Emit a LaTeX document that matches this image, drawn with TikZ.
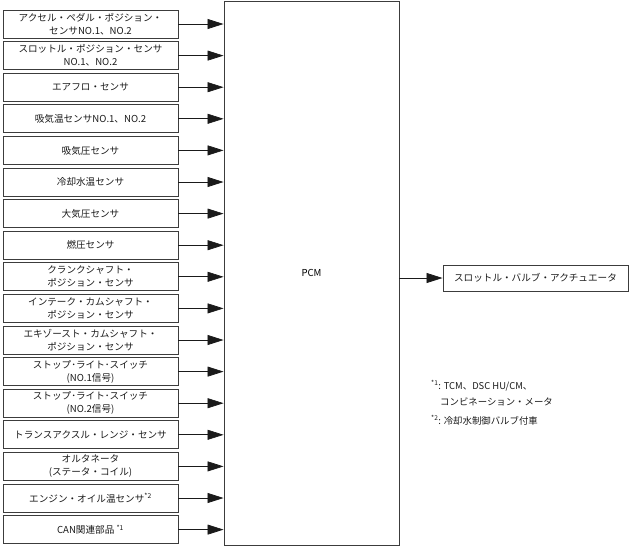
\documentclass[tikz,border=0pt]{standalone}
\usepackage{fontspec}
\setmainfont{Noto Sans CJK JP}
\usepackage{tikz}
\usetikzlibrary{arrows.meta}
\definecolor{pcmInk}{HTML}{1A1A1A}
\definecolor{pcmEdge}{HTML}{3C3C3C}

\begin{document}
\begin{tikzpicture}[
    x=1pt, y=-1pt,
    >={Triangle[length=16pt, width=10pt]},
    sensor/.style={draw=pcmEdge, line width=0.9pt, minimum width=175pt, minimum height=28pt,
                   inner sep=0pt, align=center, text=pcmInk, font=\fontsize{9.6}{13}\selectfont},
    pcm/.style={draw=pcmEdge, line width=0.9pt, minimum width=175pt, minimum height=544pt,
                inner sep=0pt, font=\fontsize{9.6}{12}\selectfont},
    actuator/.style={sensor, minimum width=185pt, minimum height=26pt},
    note/.style={anchor=north west, align=left, inner sep=0pt, text=pcmInk,
                 font=\fontsize{9.4}{16}\selectfont},
    sig/.style={->, line width=0.7pt, pcmInk},
]
\useasboundingbox (0,0) rectangle (629,547);

% ---- Input sensors ----
\node[sensor] (accel) at (90.5, 24.0)  {アクセル・ペダル・ポジション・\\センサNO.1、NO.2};
\node[sensor] (tps)   at (90.5, 55.6)  {スロットル・ポジション・センサ\\NO.1、NO.2};
\node[sensor] (maf)   at (90.5, 87.2)  {エアフロ・センサ};
\node[sensor] (iat)   at (90.5, 118.8) {吸気温センサNO.1、NO.2};
\node[sensor] (map)   at (90.5, 150.4) {吸気圧センサ};
\node[sensor] (ect)   at (90.5, 182.0) {冷却水温センサ};
\node[sensor] (baro)  at (90.5, 213.6) {大気圧センサ};
\node[sensor] (fuelp) at (90.5, 245.2) {燃圧センサ};
\node[sensor] (ckp)   at (90.5, 276.8) {クランクシャフト・\\ポジション・センサ};
\node[sensor] (cmpin) at (90.5, 308.4) {インテーク・カムシャフト・\\ポジション・センサ};
\node[sensor] (cmpex) at (90.5, 340.0) {エキゾースト・カムシャフト・\\ポジション・センサ};
\node[sensor] (bswA)  at (90.5, 371.6) {ストップ･ライト･スイッチ\\(NO.1信号)};
\node[sensor] (bswB)  at (90.5, 403.2) {ストップ･ライト･スイッチ\\(NO.2信号)};
\node[sensor] (trs)   at (90.5, 434.8) {トランスアクスル・レンジ・センサ};
\node[sensor] (alt)   at (90.5, 466.4) {オルタネータ\\(ステータ・コイル)};
\node[sensor] (eot)   at (90.5, 498.0) {エンジン・オイル温センサ\textsuperscript{*2}};
\node[sensor] (can)   at (90.5, 529.6) {CAN関連部品 \textsuperscript{*1}};

% ---- PCM ----
\node[pcm] (pcm) at (311.5, 273) {PCM};

% Inputs into PCM
\draw[sig] (accel) -- (accel -| pcm.west);
\draw[sig] (tps)   -- (tps -| pcm.west);
\draw[sig] (maf)   -- (maf -| pcm.west);
\draw[sig] (iat)   -- (iat -| pcm.west);
\draw[sig] (map)   -- (map -| pcm.west);
\draw[sig] (ect)   -- (ect -| pcm.west);
\draw[sig] (baro)  -- (baro -| pcm.west);
\draw[sig] (fuelp) -- (fuelp -| pcm.west);
\draw[sig] (ckp)   -- (ckp -| pcm.west);
\draw[sig] (cmpin) -- (cmpin -| pcm.west);
\draw[sig] (cmpex) -- (cmpex -| pcm.west);
\draw[sig] (bswA)  -- (bswA -| pcm.west);
\draw[sig] (bswB)  -- (bswB -| pcm.west);
\draw[sig] (trs)   -- (trs -| pcm.west);
\draw[sig] (alt)   -- (alt -| pcm.west);
\draw[sig] (eot)   -- (eot -| pcm.west);
\draw[sig] (can)   -- (can -| pcm.west);

% ---- Output ----
\node[actuator] (tva) at (535.5, 278) {スロットル・バルブ・アクチュエータ};
\draw[sig] (tva -| pcm.east) -- (tva);

% ---- Notes ----
\node[note] (noteA) at (431, 380) {\textsuperscript{*1}: TCM、DSC HU/CM、\\\hspace{9pt}コンビネーション・メータ};
\node[note] (noteB) at (431, 415) {\textsuperscript{*2}: 冷却水制御バルブ付車};

\end{tikzpicture}
\end{document}
